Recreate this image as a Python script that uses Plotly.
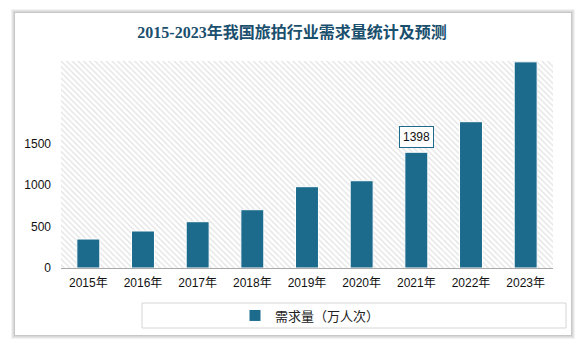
import plotly.graph_objects as go

categories = ["2015年", "2016年", "2017年", "2018年", "2019年", "2020年", "2021年", "2022年", "2023年"]
demand = [350, 447, 559, 704, 982, 1054, 1398, 1767, 2490]
y_ticks = [0, 500, 1000, 1500]
y_max = 2500
title_text = "2015-2023年我国旅拍行业需求量统计及预测"
series_name = "需求量（万人次）"

BAR = "#1c6b8d"
L, R, T, B = 61, 30, 61, 81
W, H = 583, 349
pw, ph = W - L - R, H - T - B


def px_x(px):
    return (px - L) / pw


def px_y(py):
    return (H - B - py) / ph


fig = go.Figure()

# hatched plot background
fig.add_trace(go.Bar(
    x=categories, y=[y_max] * len(categories), width=1.0,
    marker=dict(color="white", line=dict(width=0),
                pattern=dict(shape="\\", fgcolor="#c4c4c4", bgcolor="white", size=4, solidity=0.3)),
    showlegend=False, hoverinfo="skip",
))

fig.add_trace(go.Bar(
    x=categories, y=demand, width=0.42, name=series_name,
    marker=dict(color=BAR, line=dict(color="white", width=1)),
))

shapes = []
# card shadow
for i, op in enumerate([0.05, 0.05, 0.06, 0.07]):
    d = 4 - i
    shapes.append(dict(type="rect", xref="paper", yref="paper", layer="below",
                       x0=px_x(15 - d), x1=px_x(571 + d), y0=px_y(335 + d), y1=px_y(13 - d),
                       fillcolor=f"rgba(0,0,0,{op})", line=dict(width=0)))
# card
shapes.append(dict(type="rect", xref="paper", yref="paper", layer="below",
                   x0=px_x(15), x1=px_x(571), y0=px_y(335), y1=px_y(13),
                   fillcolor="white", line=dict(width=0)))
# legend box
shapes.append(dict(type="rect", xref="paper", yref="paper",
                   x0=px_x(142), x1=px_x(566), y0=px_y(328), y1=px_y(303),
                   fillcolor="rgba(0,0,0,0)", line=dict(color="#d6d6d6", width=1)))

fig.update_layout(
    width=W, height=H,
    margin=dict(l=L, r=R, t=T, b=B),
    paper_bgcolor="white", plot_bgcolor="white",
    barmode="overlay",
    title=dict(text=title_text, x=292 / W, xref="container", xanchor="center",
               y=1 - 32 / H, yref="container", yanchor="middle",
               font=dict(family="Liberation Serif, Noto Sans CJK SC", size=16, color="#1a4f6e",
                         weight="bold")),
    xaxis=dict(type="category", categoryorder="array", categoryarray=categories,
               range=[-0.5, len(categories) - 0.5],
               showgrid=False, showline=True, linecolor="#aaaaaa", linewidth=1,
               ticks="", tickfont=dict(family="Liberation Sans, Noto Sans CJK SC", size=12, color="#111111"),
               ticklabelstandoff=4),
    yaxis=dict(range=[0, y_max], tickvals=y_ticks, showgrid=False, zeroline=False, showline=False,
               ticks="", ticklabelstandoff=9,
               tickfont=dict(family="Liberation Sans", size=12, color="#111111")),
    legend=dict(orientation="h", x=px_x(310), xanchor="center", y=px_y(315.5), yanchor="middle",
                bgcolor="rgba(0,0,0,0)",
                font=dict(family="Noto Sans CJK SC", size=13, color="#222222")),
    shapes=shapes,
    annotations=[dict(x=categories[6], y=demand[6], xref="x", yref="y", text=str(demand[6]),
                      showarrow=False, yanchor="middle", yshift=15,
                      bgcolor="white", bordercolor=BAR, borderwidth=1, borderpad=3,
                      font=dict(family="Liberation Sans", size=12, color="#111111"))],
)

fig.write_html("out.html")
